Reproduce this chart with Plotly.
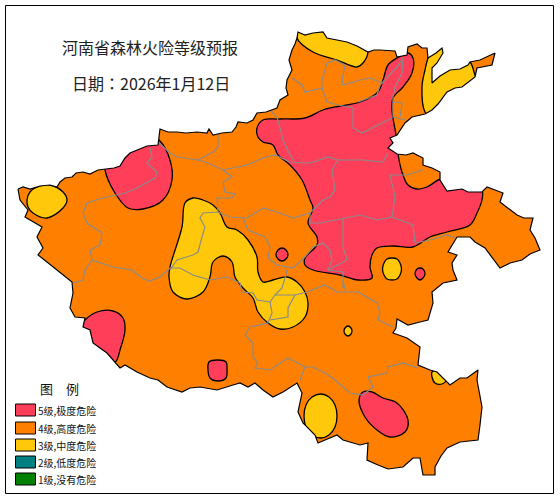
import plotly.graph_objects as go

# Data (map units = image pixels)
border = [(18,189),(23,187),(30,189),(40,186),(50,185),(57,187),(60,182),(65,178),(72,177),(76,173),(83,172),(90,174),(98,170),(105,169),
          (114,168),(120,166),(125,158),(130,153),(137,150),(147,146),(158,145),(160,129),(168,132),(177,132),(186,133),(197,132),
          (207,133),(209,129),(213,135),(222,133),(232,132),(236,127),(238,122),(247,123),(253,120),(257,113),(266,112),(277,108),(280,100),
          (288,95),(286,88),(287,80),(292,70),(289,60),(292,50),(295,44),(297,38),(298,32),(305,35),(313,33),(323,32),(327,38),(337,40),(347,42),
          (357,46),(368,52),(374,50),(380,50),(395,51),(397,57),(407,55),(408,47),(417,44),(422,48),(427,48),(428,58),(436,53),(442,48),
          (443,53),(437,63),(432,68),(432,83),(440,76),(450,70),(460,69),(468,65),(470,62),(480,60),(495,53),(492,65),(477,68),(475,77),
          (462,87),(455,88),(447,92),(438,104),(432,110),(425,114),(412,117),(405,123),(397,135),(390,138),(393,143),(388,148),(397,154),
          (406,155),(413,153),(423,158),(423,165),(432,168),(440,172),(440,180),(447,191),(455,190),(462,189),(468,192),(482,192),(487,187),
          (495,190),(503,193),(500,202),(508,208),(517,215),(524,218),(533,218),(530,230),(535,238),(540,250),(530,254),(522,260),(510,263),
          (500,268),(492,257),(485,248),(475,242),(470,237),(457,237),(448,252),(457,255),(452,263),(453,270),(457,280),(443,283),(432,292),
          (433,303),(428,320),(420,322),(408,325),(397,319),(396,328),(393,333),(407,338),(420,347),(418,365),(430,370),(437,372),(450,385),
          (460,378),(467,378),(478,370),(477,380),(480,395),(482,407),(480,425),(478,440),(460,442),(447,448),(441,456),(435,467),(435,475),
          (423,475),(420,458),(413,458),(403,467),(388,469),(378,465),(367,460),(368,443),(360,445),(343,440),(337,435),(318,443),(315,435),
          (303,423),(298,412),(302,393),(297,383),(283,392),(273,397),(263,390),(255,383),(248,387),(240,383),(233,385),(217,390),(200,387),
          (190,388),(182,392),(167,387),(158,380),(150,378),(137,372),(125,365),(120,368),(113,360),(107,353),(100,348),(93,343),(90,330),
          (83,327),(85,318),(75,317),(70,308),(73,293),(72,282),(64,276),(57,270),(47,262),(38,255),(43,248),(37,237),(42,227),(25,217),
          (28,210),(20,200)]

red_main = [(397,58),(388,65),(383,80),(378,92),(360,102),(340,106),(323,110),(305,118),(280,119),(263,120),(257,128),(258,137),
            (263,142),(273,145),(278,155),(290,165),(302,180),(310,200),(313,208),(308,223),(317,237),(317,245),(305,258),(305,265),
            (313,270),(340,275),(358,280),(372,278),(370,267),(372,255),(377,248),(393,246),(413,247),(430,237),(447,232),(470,225),
            (477,213),(482,200),(482,190),(470,180),(441,179),(427,187),(417,189),(408,185),(402,172),(398,154),(396,135),(392,110),
            (393,98),(403,87),(412,73),(413,58),(408,53)]
red_nw = [(140,130),(105,155),(105,170),(115,193),(128,208),(143,209),(163,200),(172,180),(170,160),(160,141)]
red_sw = [(78,330),(85,320),(97,312),(113,311),(123,318),(125,330),(120,350),(115,362),(95,355)]
red_se = [(397,403),(408,420),(405,432),(390,437),(377,430),(365,417),(359,400),(363,392),(372,392),(383,398)]
red_s = [(218,360),(226,362),(227,370),(226,378),(218,381),(210,378),(208,370),(209,362)]
red_a = [(288,255),(286,259),(282,261),(278,259),(276,255),(278,250),(282,248),(286,250)]
red_b = [(425,274),(423,278),(420,280),(417,278),(415,274),(417,269),(420,268),(423,269)]
red_zones = [red_main, red_nw, red_sw, red_se, red_s, red_a, red_b]

yellow_n = [(300,25),(297,38),(313,52),(337,60),(357,67),(363,63),(368,52),(365,40)]
yellow_ne = [(455,55),(447,42),(432,50),(428,58),(425,70),(422,87),(425,112),(432,118),(480,85),(475,75),(470,62)]
yellow_w = [(50,185),(63,192),(67,200),(63,208),(47,218),(33,213),(28,207),(27,200),(30,192),(40,186)]
yellow_c = [(193,198),(185,203),(182,227),(170,267),(169,277),(173,292),(187,299),(203,292),(210,277),(213,262),(223,256),
            (232,262),(235,277),(243,288),(253,298),(258,312),(268,323),(280,329),(293,327),(305,317),(308,303),(305,292),
            (297,282),(287,277),(273,280),(263,282),(258,272),(257,257),(248,240),(237,230),(227,227),(220,213),(213,205),(203,200)]
yellow_sw = [(337,416),(335,427),(329,435),(321,438),(312,435),(306,427),(304,416),(306,405),(312,397),(321,394),(329,397),(335,405)]
yellow_se = [(432,372),(437,371),(446,380),(442,384),(435,383),(432,377)]
yellow_a = [(401.5,269),(400,275),(397,279),(392,280),(387,279),(384,275),(382.5,269),(384,263),(387,259),(392,258),(397,259),(400,263)]
yellow_b = [(352,331),(351,334),(348,336),(345,334),(344,331),(345,328),(348,326),(351,328)]
yellow_zones = [yellow_n, yellow_ne, yellow_w, yellow_c, yellow_sw, yellow_se, yellow_a, yellow_b]

# county / prefecture lines
grey_lines = [
    [(150,148),(152,157),(147,163),(157,172),(155,178),(137,188),(125,193),(103,198),(87,203),(83,213),(87,223),(102,233),(100,245),(90,250),(92,260),(85,270),(83,280),(73,283)],
    [(92,260),(113,267),(132,270),(142,278),(150,281),(160,277),(170,268),(180,268),(193,275),(210,280),(227,277),(240,283),(242,292),(253,293),(257,300),(270,302),(272,313),(268,323),(250,327),(245,335),(253,343),(253,357),(258,363),(255,368),(270,370),(288,358),(305,367),(313,367),(325,373),(335,380),(350,393),(363,395),(373,387),(368,377),(387,373),(388,367),(403,363),(418,368)],
    [(305,367),(300,380)],
    [(170,270),(177,260),(193,255),(198,252),(202,237),(205,227),(200,218),(203,213),(218,212),(230,217),(247,218),(263,208),(277,212),(293,218),(310,213),(323,200),(330,197),(335,190),(332,170),(338,160),(363,160),(383,162),(388,153)],
    [(218,212),(217,198),(232,198),(235,194),(225,192),(223,182),(232,177),(223,170),(208,163),(198,160),(177,157),(170,153),(159,143)],
    [(198,160),(213,152),(218,147),(218,135)],
    [(223,170),(247,165),(263,158),(275,155),(290,162),(310,163),(328,157),(338,160)],
    [(243,218),(248,230),(265,237),(270,247),(268,258),(277,265),(293,268),(305,257),(313,247),(323,243),(330,250),(332,260),(328,270),(343,272),(343,288)],
    [(270,110),(277,117),(280,128),(283,140),(290,155),(293,160)],
    [(310,213),(310,223),(320,223),(343,218),(360,215),(377,220),(392,217),(413,225),(415,243)],
    [(343,218),(343,247),(347,260),(338,265),(328,270)],
    [(423,170),(407,175),(390,175),(395,197),(392,217)],
    [(292,78),(302,85),(305,92),(322,88),(327,102),(338,105),(353,108),(353,128),(362,133),(378,125),(392,118)],
    [(322,88),(322,80),(327,63),(335,60),(345,65),(342,80),(343,85),(360,80),(370,78),(382,83)],
    [(358,102),(377,95),(380,85),(397,67),(403,58)],
    [(403,58),(402,73),(395,87),(393,97),(393,117),(405,120)],
    [(393,102),(402,103),(400,117)],
    [(270,302),(275,295),(295,295),(307,292),(325,285),(337,292),(358,292),(377,303),(380,312),(378,320),(393,327)],
    [(275,295),(282,288),(285,278),(287,270)],
    [(295,295),(288,308),(288,317),(270,320)],
    [(343,280),(345,290)],
    [(415,243),(430,240),(447,235),(455,238)],
]

legend_labels = ['5级,极度危险', '4级,高度危险', '3级,中度危险', '2级,低度危险', '1级,没有危险']
legend_colors = ['#FF3E5A', '#FF8000', '#FFC80A', '#008080', '#008000']
legend_y = [410, 428, 445, 462, 479]
RED, ORANGE, YELLOW = legend_colors[:3]


def zone_trace(points, color, shape='spline'):
    return go.Scatter(x=[p[0] for p in points] + [points[0][0]],
                      y=[p[1] for p in points] + [points[0][1]],
                      mode='lines', fill='toself', fillcolor=color,
                      line=dict(color='black', width=1.3, shape=shape, smoothing=1.0),
                      hoverinfo='skip', showlegend=False)


fig = go.Figure()

# province base
fig.add_trace(go.Scatter(x=[p[0] for p in border], y=[p[1] for p in border], mode='lines', fill='toself',
                         fillcolor=ORANGE, line=dict(width=0), hoverinfo='skip', showlegend=False))

for zone in red_zones:
    fig.add_trace(zone_trace(zone, RED))
for zone in yellow_zones:
    fig.add_trace(zone_trace(zone, YELLOW))

for seg in grey_lines:
    fig.add_trace(go.Scatter(x=[p[0] for p in seg], y=[p[1] for p in seg], mode='lines',
                             line=dict(color='#8A8A8A', width=1.2), hoverinfo='skip', showlegend=False))

# white mask outside the province, so zones are cut at the border
mask_x = [0, 0, 560, 560, 0, None] + [p[0] for p in border] + [border[0][0]]
mask_y = [0, 500, 500, 0, 0, None] + [p[1] for p in border] + [border[0][1]]
fig.add_trace(go.Scatter(x=mask_x, y=mask_y, mode='lines', fill='toself', fillcolor='white',
                         line=dict(width=0), hoverinfo='skip', showlegend=False))

fig.add_trace(go.Scatter(x=[p[0] for p in border] + [border[0][0]], y=[p[1] for p in border] + [border[0][1]],
                         mode='lines', line=dict(color='black', width=1.2), hoverinfo='skip', showlegend=False))

# frame
fig.add_shape(type='rect', x0=5.5, y0=5.5, x1=553.5, y1=493.5, line=dict(color='black', width=1))

# legend
for label, color, y in zip(legend_labels, legend_colors, legend_y):
    fig.add_shape(type='rect', x0=15.5, x1=35.5, y0=y - 6, y1=y + 6, fillcolor=color, line=dict(color='black', width=1))
    fig.add_annotation(x=36, y=y, text=label, showarrow=False, xanchor='left', font=dict(size=10, color='#111111'))

font = 'Noto Sans CJK SC'
fig.add_annotation(x=150, y=47, text='河南省森林火险等级预报', showarrow=False, font=dict(size=16, color='#222222'))
fig.add_annotation(x=150.5, y=83, text='日期：2026年1月12日', showarrow=False,
                   font=dict(size=16, color='#222222', family='Noto Sans CJK TC'))
fig.add_annotation(x=59, y=388, text='图　例', showarrow=False, font=dict(size=13, color='#111111'))

fig.update_layout(width=560, height=500, margin=dict(l=0, r=0, t=0, b=0),
                  paper_bgcolor='white', plot_bgcolor='white', font=dict(family=font),
                  xaxis=dict(range=[0, 560], visible=False, fixedrange=True),
                  yaxis=dict(range=[500, 0], visible=False, fixedrange=True))

fig.write_html("out.html", config=dict(displayModeBar=False),
               post_script="document.body.style.margin='0';document.body.style.overflow='hidden';")
